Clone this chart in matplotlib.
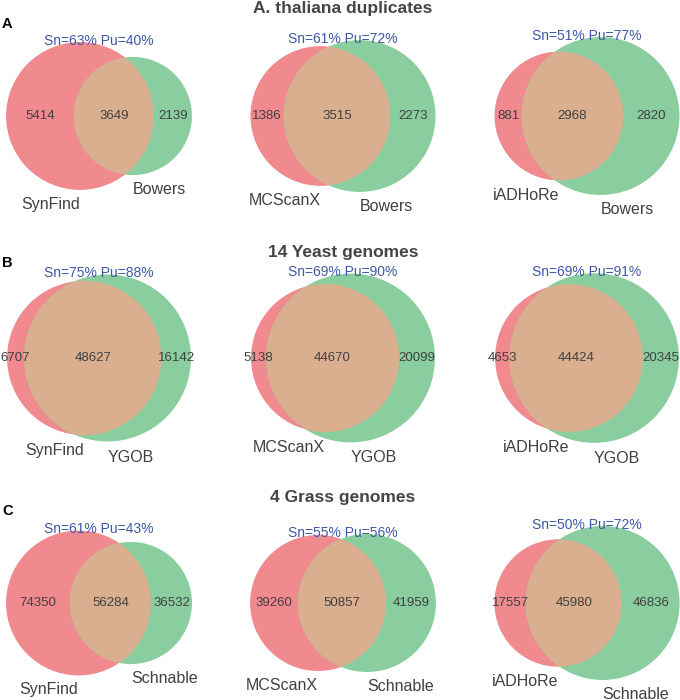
import math
import matplotlib
matplotlib.use('Agg')
import matplotlib.pyplot as plt
from matplotlib.patches import Circle

plt.rcParams['font.family'] = ['Liberation Sans', 'DejaVu Sans']

ROW_TITLES = ['A. thaliana duplicates', '14 Yeast genomes', '4 Grass genomes']
PANEL_LETTERS = ['A', 'B', 'C']
METHODS = ['SynFind', 'MCScanX', 'iADHoRe']
REFERENCES = ['Bowers', 'YGOB', 'Schnable']

# counts per row (dataset) and column (method)
ONLY_METHOD = [[5414, 1386, 881],
               [6707, 5138, 4653],
               [74350, 39260, 17557]]
SHARED = [[3649, 3515, 2968],
          [48627, 44670, 44424],
          [56284, 50857, 45980]]
ONLY_REF = [[2139, 2273, 2820],
            [16142, 20099, 20345],
            [36532, 41959, 46836]]
SN = [[63, 61, 51], [75, 69, 69], [61, 55, 50]]
PU = [[40, 72, 77], [88, 90, 91], [43, 56, 72]]

RED = '#F08A8E'
GREEN = '#8ACE9F'
BOTH = '#D9AF8F'
TEXT = '#404040'
BLUE = '#3D58A6'

W, H = 680, 700
COL_X = [99, 343, 587]
ROW_Y = [116, 358, 603]
BOX = 215
TITLE_Y = [13, 257, 502]
LETTER_Y = [28, 267, 515]


def lens_area(d, r1, r2):
    a1 = math.acos((d * d + r1 * r1 - r2 * r2) / (2 * d * r1))
    a2 = math.acos((d * d + r2 * r2 - r1 * r1) / (2 * d * r2))
    k = (-d + r1 + r2) * (d + r1 - r2) * (d - r1 + r2) * (d + r1 + r2)
    return r1 * r1 * a1 + r2 * r2 * a2 - 0.5 * math.sqrt(max(k, 0.0))


def solve_distance(r1, r2, area):
    lo, hi = abs(r1 - r2) + 1e-9, r1 + r2 - 1e-9
    for _ in range(100):
        mid = (lo + hi) / 2
        if lens_area(mid, r1, r2) > area:
            lo = mid
        else:
            hi = mid
    return (lo + hi) / 2


def draw_venn(ax, a_only, both, b_only, name_a, name_b, sn, pu):
    total = a_only + both + b_only
    r1 = math.sqrt((a_only + both) / total / math.pi)
    r2 = math.sqrt((b_only + both) / total / math.pi)
    d = solve_distance(r1, r2, both / total)
    x1, x2 = 0.0, d

    ax.add_patch(Circle((x1, 0), r1, fc=RED, ec='none'))
    ax.add_patch(Circle((x2, 0), r2, fc=GREEN, ec='none'))
    lens = Circle((x1, 0), r1, fc=BOTH, ec='none')
    ax.add_patch(lens)
    lens.set_clip_path(Circle((x2, 0), r2, transform=ax.transData))

    left_a, right_a = x1 - r1, x1 + r1
    left_b, right_b = x2 - r2, x2 + r2
    kw = dict(ha='center', va='center', fontsize=9.5, color=TEXT)
    ax.text((left_a + left_b) / 2, 0, str(a_only), **kw)
    ax.text((left_b + right_a) / 2, 0, str(both), **kw)
    ax.text((right_a + right_b) / 2, 0, str(b_only), **kw)

    ax.text(x1, -(r1 + 0.1), name_a, ha='right', va='center',
            fontsize=11.5, color=TEXT)
    ax.text(x2, -(r2 + 0.1), name_b, ha='left', va='center',
            fontsize=11.5, color=TEXT)

    xmin = min(left_a, left_b) - 0.1
    xmax = max(right_a, right_b) + 0.1
    top = max(r1, r2)
    ax.text((xmin + xmax) / 2, top + 0.01, f'Sn={sn}% Pu={pu}%',
            ha='center', va='center', fontsize=10, color=BLUE)

    ax.set_xlim(xmin, xmax)
    ax.set_ylim(-top - 0.1, top + 0.1)
    ax.set_aspect('equal', adjustable='box', anchor='C')
    ax.axis('off')


fig = plt.figure(figsize=(W / 100, H / 100), dpi=100)

for i in range(3):
    for j in range(3):
        ax = fig.add_axes([(COL_X[j] - BOX / 2) / W, 1 - (ROW_Y[i] + BOX / 2) / H,
                           BOX / W, BOX / H])
        draw_venn(ax, ONLY_METHOD[i][j], SHARED[i][j], ONLY_REF[i][j],
                  METHODS[j], REFERENCES[i], SN[i][j], PU[i][j])
    fig.text(COL_X[1] / W, 1 - TITLE_Y[i] / H, ROW_TITLES[i], ha='center',
             va='baseline', fontsize=12.5, fontweight='bold', color='#454545')
    fig.text(2 / W, 1 - LETTER_Y[i] / H, PANEL_LETTERS[i], ha='left',
             va='baseline', fontsize=10.5, fontweight='bold', color='black')

fig.savefig('out.png', dpi=100)
plt.close(fig)
